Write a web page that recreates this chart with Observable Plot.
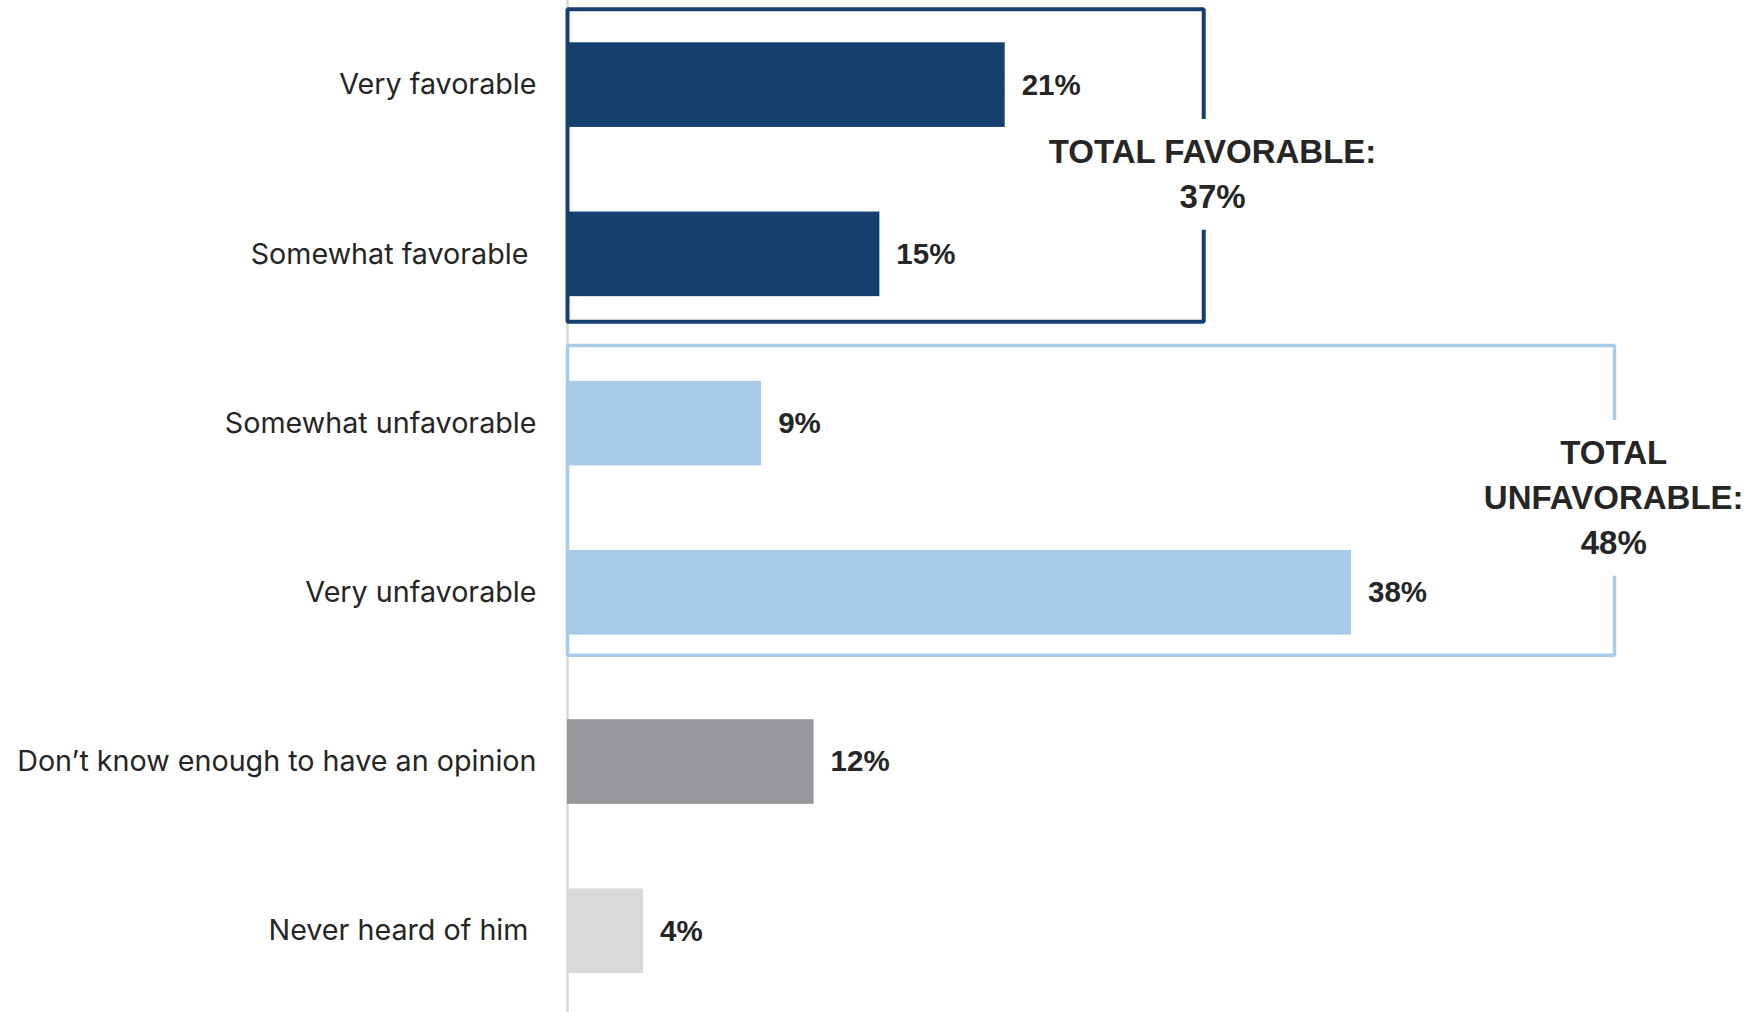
<!DOCTYPE html>
<html>
<head>
<meta charset="utf-8">
<script src="https://cdn.jsdelivr.net/npm/d3@7"></script>
<script src="https://cdn.jsdelivr.net/npm/@observablehq/plot@0.6"></script>
<style>
  html, body { margin: 0; padding: 0; background: #fff; }
  #chart svg { display: block; }
</style>
</head>
<body>
<div id="chart"></div>
<script>
// ---- data ----
const categories = [
  "Very favorable",
  "Somewhat favorable ",
  "Somewhat unfavorable",
  "Very unfavorable",
  "Don\u2019t know enough to have an opinion",
  "Never heard of him "
];
// bar lengths (labels show the rounded values)
const values = [21.3, 15.2, 9.45, 38.15, 12.0, 3.7];
const barColors = ["#143F6E", "#143F6E", "#A6CCEA", "#A6CCEA", "#97969B", "#D9D9D9"];

const groupTitles = ["TOTAL FAVORABLE:", "TOTAL\nUNFAVORABLE:"];
const groupTotals = [37, 48];
const groupMembers = [[0, 1], [2, 3]];

// ---- annotation styling (bracket boxes) ----
const boxStyle = [
  {edge: 30.96, padTop: 0.449, padBottom: 0.399, labelX: 31.39, labelShift: 0.027, stroke: "#143F6E", width: 4},
  {edge: 50.95, padTop: 0.461, padBottom: 0.369, labelX: 50.91, labelShift: -0.061, stroke: "#A6CCEA", width: 3.5}
];

const rows = categories.map((c, i) => ({i, category: c, value: values[i], color: barColors[i]}));

const pxPerUnitY = 1012 / 5.98;
const labelFont = 33, labelLinePx = 44.8, labelLH = labelLinePx / labelFont;

const annots = groupTitles.map((t, k) => {
  const m = groupMembers[k];
  const s = boxStyle[k];
  const top = m[0] - s.padTop;
  const bottom = m[m.length - 1] + s.padBottom;
  const text = t + "\n" + groupTotals[k] + "%";
  const n = text.split("\n").length;
  const labelY = (m[0] + m[m.length - 1]) / 2 + s.labelShift;
  const gapHalf = ((n - 1) * 0.5 * labelLinePx + 12 + 21) / pxPerUnitY;
  const pts = [
    [s.edge, labelY - gapHalf], [s.edge, top], [0, top], [0, bottom], [s.edge, bottom], [s.edge, labelY + gapHalf]
  ].map(([x, y]) => ({x, y}));
  return {k, text, labelX: s.labelX, labelY, pts, stroke: s.stroke, width: s.width};
});

const regular = "Inter, Roboto, 'Noto Sans', sans-serif";
const bold = "'Liberation Sans', Arial, sans-serif";

const chart = Plot.plot({
  width: 1755,
  height: 1012,
  marginLeft: 567,
  marginRight: 0,
  marginTop: 0,
  marginBottom: 0,
  style: {background: "#fff"},
  x: {domain: [0, 57.81], axis: null},
  y: {domain: [-0.5, 5.48], reverse: true, axis: null},
  color: {type: "identity"},
  marks: [
    Plot.ruleX([0], {stroke: "#D9D9D9", strokeWidth: 2.5}),
    Plot.rectX(rows, {x1: 0, x2: "value", y1: d => d.i - 0.25, y2: d => d.i + 0.25, fill: "color"}),
    ...annots.map(a => Plot.line(a.pts, {x: "x", y: "y", stroke: a.stroke, strokeWidth: a.width, strokeLinejoin: "miter", strokeLinecap: "butt"})),
    Plot.text(rows, {x: "value", y: "i", text: d => Math.round(d.value) + "%", dx: 16.5, textAnchor: "start",
      fontFamily: bold, fontWeight: "bold", fontSize: 29.5, fill: "#262626"}),
    Plot.text(rows, {x: 0, y: "i", text: "category", dx: -31, textAnchor: "end",
      fontFamily: regular, fontSize: 28.7, fill: "#262626"}),
    Plot.text(annots, {x: "labelX", y: "labelY", text: "text", textAnchor: "middle", lineHeight: labelLH, dy: -3,
      fontFamily: bold, fontWeight: "bold", fontSize: labelFont, fill: "#262626"})
  ]
});
document.getElementById("chart").appendChild(chart);
</script>
</body>
</html>
